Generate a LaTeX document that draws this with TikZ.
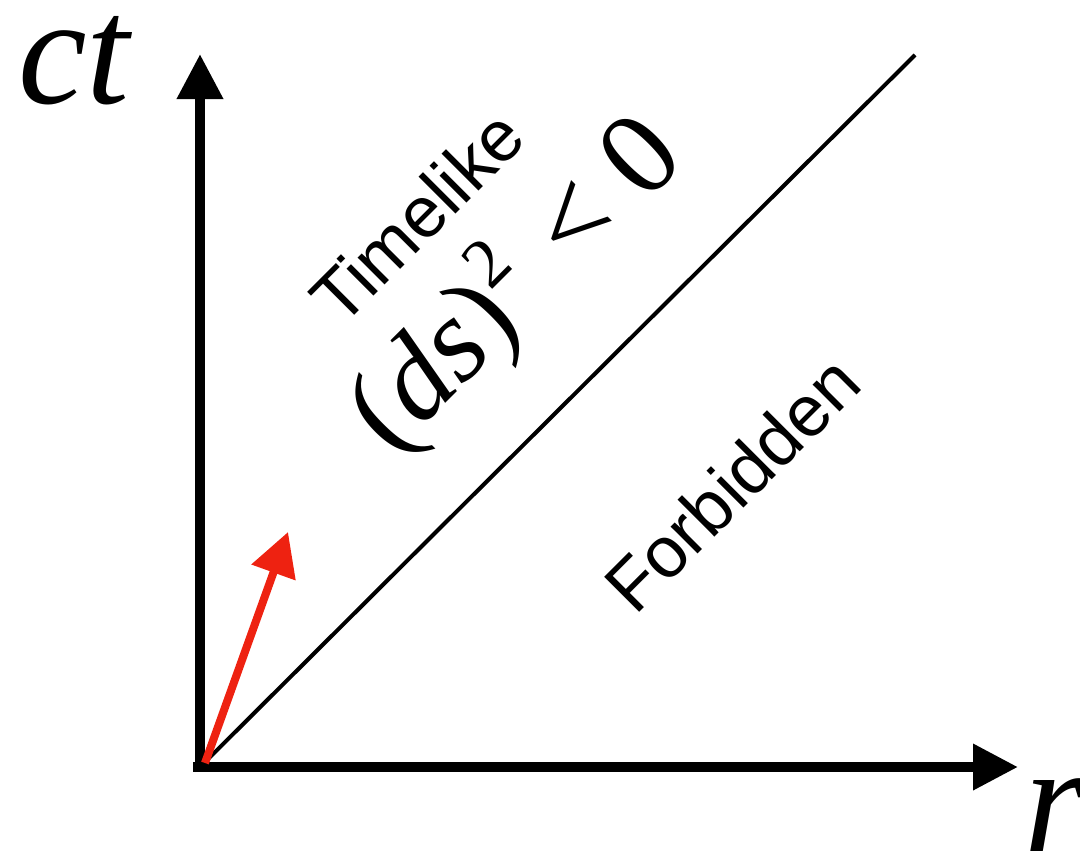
\documentclass[tikz,border=0pt]{standalone}
\usepackage{fontspec}
\setmainfont{Liberation Serif}
\setsansfont{Liberation Sans}
\usetikzlibrary{arrows.meta}
\definecolor{VecRed}{HTML}{EE2211}
\tikzset{axis/.style={line width=1mm,-{Triangle[length=4.5mm,width=4.4mm]}},
 lightline/.style={line width=0.4mm},
 vec/.style={draw=VecRed,line width=0.8mm,-{Triangle[length=4.3mm,width=4.5mm]}},
 region/.style={rotate=45,anchor=base,inner sep=0pt,font=\sffamily\fontsize{20.5}{24}\selectfont},
 axlabel/.style={anchor=base,inner sep=0pt,font=\itshape\fontsize{44}{50}\selectfont}}

\begin{document}
\begin{tikzpicture}
\useasboundingbox (0,0) rectangle (10.8,8.53);
\coordinate (O) at (2.0,0.86);\coordinate (Ostart) at (1.93,0.86);
\coordinate (ctend) at (2.0,7.99);\coordinate (rend) at (10.18,0.86);
\coordinate (lightend) at (9.15,7.98);
\coordinate (vtail) at (2.05,0.9);\coordinate (vtip) at (2.88,3.21);
% axes and light line
\draw[axis] (Ostart) -- (rend);
\draw[axis] (2.0,0.81) -- (ctend);
\draw[lightline] (O) -- (lightend);
\draw[vec] (vtail) -- (vtip);
% labels
\node[axlabel] (ct) at (0.74,7.50) {ct};
\node[axlabel] (r) at (10.55,0.02) {r};
\node[region] (timelike) at (4.35,6.18) {Timelike};
\node[rotate=45,anchor=base,inner sep=0pt,font=\fontsize{34}{40}\selectfont] (interval)
 at (5.40,5.44) {(\textit{ds})\raisebox{0.4em}{\fontsize{20}{20}\selectfont 2}\hspace{0.08em} < 0};
\node[region] (forbidden) at (7.50,3.51) {Forbidden};
\end{tikzpicture}
\end{document}
